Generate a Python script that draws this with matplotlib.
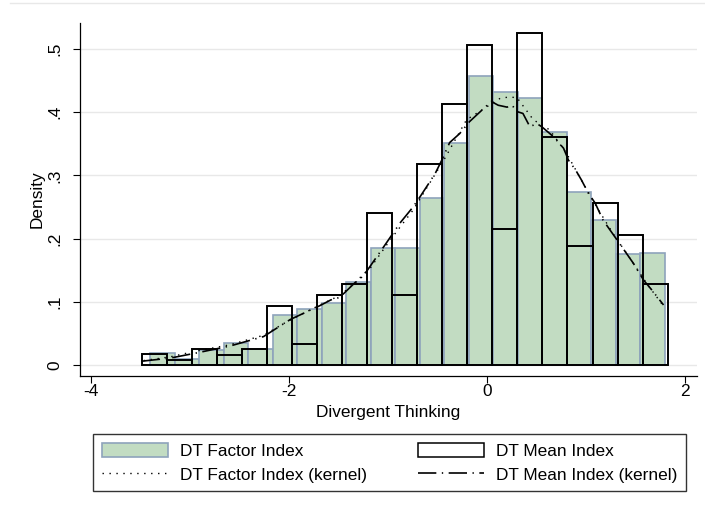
import numpy as np
import matplotlib.pyplot as plt
from matplotlib.patches import Patch
from matplotlib.lines import Line2D

plt.rcParams['font.family'] = ['Liberation Sans', 'DejaVu Sans']
plt.rcParams['font.size'] = 12.4

# histogram bins (21 bins each)
factor_bin_start = -3.407
factor_bin_width = 0.2477
factor_density = [0.0185, 0.009, 0.023, 0.035, 0.025, 0.079, 0.088, 0.098, 0.132, 0.185, 0.185,
                  0.264, 0.352, 0.458, 0.4315, 0.423, 0.369, 0.273, 0.229, 0.1756, 0.177]

mean_bin_start = -3.491
mean_bin_width = 0.253
mean_density = [0.017, 0.008, 0.025, 0.016, 0.025, 0.094, 0.034, 0.111, 0.128, 0.240, 0.111,
                0.3175, 0.4125, 0.507, 0.2147, 0.525, 0.361, 0.188, 0.257, 0.2057, 0.128]

# kernel density curves
factor_kde_x = [-3.47, -3.2, -2.94, -2.6, -2.26, -2.03, -1.69, -1.49, -1.22, -0.98, -0.75, -0.44,
                -0.21, 0.0, 0.13, 0.22, 0.30, 0.465, 0.63, 0.80, 0.97, 1.105, 1.27, 1.44, 1.61, 1.795]
factor_kde_y = [0.007, 0.013, 0.022, 0.032, 0.047, 0.068, 0.095, 0.110, 0.145, 0.198, 0.245, 0.324,
                0.388, 0.409, 0.422, 0.424, 0.423, 0.388, 0.372, 0.335, 0.287, 0.250, 0.208, 0.169,
                0.129, 0.090]

mean_kde_x = [-3.49, -3.2, -2.94, -2.6, -2.26, -1.99, -1.69, -1.58, -1.49, -1.22, -1.02, -0.88,
              -0.75, -0.68, -0.58, -0.52, -0.46, -0.38, -0.28, -0.18, -0.07, 0.04, 0.11, 0.2, 0.25,
              0.30, 0.36, 0.43, 0.50, 0.55, 0.67, 0.77, 0.82, 0.89, 0.95, 1.02, 1.09, 1.17, 1.31,
              1.475, 1.58, 1.66, 1.78]
mean_kde_y = [0.006, 0.011, 0.019, 0.030, 0.045, 0.072, 0.094, 0.103, 0.107, 0.148, 0.193, 0.225,
              0.250, 0.266, 0.290, 0.305, 0.324, 0.352, 0.366, 0.385, 0.401, 0.417, 0.411, 0.408,
              0.411, 0.401, 0.398, 0.377, 0.382, 0.377, 0.361, 0.343, 0.324, 0.309, 0.293, 0.272,
              0.256, 0.229, 0.198, 0.161, 0.134, 0.119, 0.095]

x_ticks = [-4, -2, 0, 2]
x_tick_labels = ['-4', '-2', '0', '2']
y_ticks = [0, 0.1, 0.2, 0.3, 0.4, 0.5]
y_tick_labels = ['0', '.1', '.2', '.3', '.4', '.5']

labels = ['DT Factor Index', 'DT Factor Index (kernel)', 'DT Mean Index', 'DT Mean Index (kernel)']

green = '#c2dcc2'
green_edge = '#8ea3bb'
dotted = (0, (1, 4.0))
dashdot = (0, (11, 3.3, 0.8, 3.3))

fig = plt.figure(figsize=(7.05, 5.12), dpi=100)
ax = fig.add_axes([80 / 705, 1 - 376 / 512, 616.7 / 705, 353.3 / 512])

factor_left = factor_bin_start + factor_bin_width * np.arange(len(factor_density))
mean_left = mean_bin_start + mean_bin_width * np.arange(len(mean_density))

ax.bar(factor_left, factor_density, factor_bin_width, align='edge',
       color=green, edgecolor=green_edge, linewidth=1.2, zorder=2)
ax.bar(mean_left, mean_density, mean_bin_width, align='edge',
       fill=False, edgecolor='black', linewidth=1.4, zorder=3)
ax.plot(factor_kde_x, factor_kde_y, color='black', lw=1.0, ls=dotted, zorder=4)
ax.plot(mean_kde_x, mean_kde_y, color='black', lw=1.2, ls=dashdot, zorder=4)

ax.set_xlim(-4.114, 2.115)
ax.set_ylim(-0.0174, 0.5416)
ax.set_xticks(x_ticks)
ax.set_xticklabels(x_tick_labels)
ax.set_yticks(y_ticks)
ax.set_yticklabels(y_tick_labels, rotation=90, va='center')

ax.yaxis.grid(True, color='#e8e8e8', lw=1.0)
ax.set_axisbelow(True)
for side in ['top', 'right']:
    ax.spines[side].set_visible(False)
for side in ['left', 'bottom']:
    ax.spines[side].set_linewidth(0.9)
ax.tick_params(axis='both', direction='out', length=5, width=0.8, color='black')
ax.tick_params(axis='x', pad=1)
ax.tick_params(axis='y', pad=7.5)

ax.set_ylabel('Density')
ax.yaxis.set_label_coords(-0.057, 0.5)
ax.set_xlabel('Divergent Thinking', va='top')
ax.xaxis.set_label_coords(0.5, -0.082)

# faint outer border line at the top
fig.add_artist(Line2D([10 / 705, 1], [1 - 3.3 / 512] * 2, color='#e8e8e8', lw=1.0))

handles = [
    Patch(facecolor=green, edgecolor=green_edge, linewidth=1.2),
    Line2D([], [], color='black', lw=1.0, ls=dotted),
    Patch(facecolor='white', edgecolor='black', linewidth=1.1),
    Line2D([], [], color='black', lw=1.2, ls=dashdot),
]
leg = fig.legend(handles, labels, ncol=2, loc='upper left', mode='expand',
                 bbox_to_anchor=(93 / 705, 21 / 512, 593 / 705, 57 / 512), frameon=True,
                 fancybox=False, edgecolor='black', handlelength=3.85, handleheight=0.95,
                 handletextpad=0.7, columnspacing=2.2, borderpad=0.5, labelspacing=0.42,
                 borderaxespad=0)
leg.get_frame().set_linewidth(1.0)

fig.savefig('out.png', dpi=100)
